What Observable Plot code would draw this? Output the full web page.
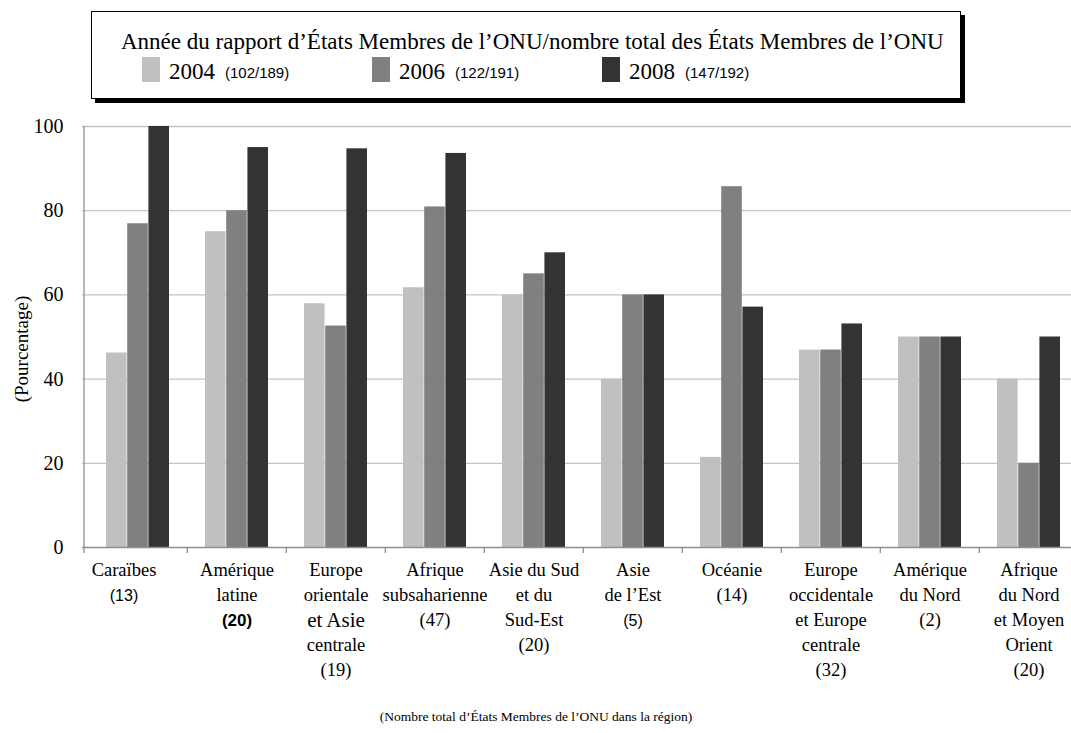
<!DOCTYPE html>
<html>
<head>
<meta charset="utf-8">
<script src="https://cdn.jsdelivr.net/npm/d3@7"></script>
<script src="https://cdn.jsdelivr.net/npm/@observablehq/plot@0.6"></script>
<style>
  body { margin: 0; background: #fff; }
  #wrap { position: relative; width: 1071px; height: 733px; overflow: hidden; }
  #legend { position: relative; height: 105px; }
  #box { position: absolute; left: 91px; top: 11px; width: 868px; height: 86px;
         border: 1px solid #000; box-shadow: 4px 4px 0 #000; background: #fff;
         font-family: "Liberation Serif", "Times New Roman", serif; color: #000; }
  #box .title { position: absolute; left: 29px; top: 18px; font-size: 23px; line-height: 24px; white-space: nowrap; }
  #box .item { position: absolute; top: 47px; height: 26px; display: flex; align-items: center; white-space: nowrap; }
  #box .sw { display: inline-block; width: 18px; height: 25px; margin-right: 9px; position: relative; top: -3px; }
  #box .yr { font-size: 23px; margin-right: 10px; }
  #box .ct { font-family: "Liberation Sans", Arial, sans-serif; font-size: 15px; }
  svg { display: block; }
</style>
</head>
<body>
<div id="wrap">
  <div id="legend"><div id="box"></div></div>
  <div id="chart"></div>
</div>
<script>
// ---------- data ----------
const legendTitle = "Année du rapport d’États Membres de l’ONU/nombre total des États Membres de l’ONU";
const years = ["2004", "2006", "2008"];
const legendCounts = ["(102/189)", "(122/191)", "(147/192)"];
const colors = ["#c0c0c0", "#808080", "#333333"];

const regions = [
  "Caraïbes", "Amérique latine", "Europe orientale et Asie centrale", "Afrique subsaharienne",
  "Asie du Sud et du Sud-Est", "Asie de l’Est", "Océanie",
  "Europe occidentale et Europe centrale", "Amérique du Nord", "Afrique du Nord et Moyen Orient"
];
const labelLines = [
  ["Caraïbes"], ["Amérique", "latine"], ["Europe", "orientale", "et Asie", "centrale"],
  ["Afrique", "subsaharienne"], ["Asie du Sud", "et du", "Sud-Est"], ["Asie", "de l’Est"],
  ["Océanie"], ["Europe", "occidentale", "et Europe", "centrale"], ["Amérique", "du Nord"],
  ["Afrique", "du Nord", "et Moyen", "Orient"]
];
const memberCounts = ["(13)", "(20)", "(19)", "(47)", "(20)", "(5)", "(14)", "(32)", "(2)", "(20)"];

const v2004 = [46.2, 75, 57.9, 61.7, 60, 40, 21.4, 46.9, 50, 40];
const v2006 = [76.9, 80, 52.6, 80.9, 65, 60, 85.7, 46.9, 50, 20];
const v2008 = [100, 95, 94.7, 93.6, 70, 60, 57.1, 53.1, 50, 50];

const yTicks = [0, 20, 40, 60, 80, 100];
const yTitle = "(Pourcentage)";
const xTitle = "(Nombre total d’États Membres de l’ONU dans la région)";

// ---------- styles (kept apart from the data) ----------
const serif = "'Liberation Serif', 'Times New Roman', serif";
const sans = "'Liberation Sans', Arial, sans-serif";
const countStyle = { 0: "sans", 1: "sansBold", 5: "sans" }; // by region index
const labelShift = { 0: -14 };                                 // by region index
const bigLine = "et Asie";

// ---------- legend ----------
const box = document.getElementById("box");
const t = document.createElement("div");
t.className = "title"; t.textContent = legendTitle; box.appendChild(t);
years.forEach((y, i) => {
  const item = document.createElement("div");
  item.className = "item";
  item.style.left = (50 + i * 230) + "px";
  const sw = document.createElement("span"); sw.className = "sw"; sw.style.background = colors[i];
  const yr = document.createElement("span"); yr.className = "yr"; yr.textContent = y;
  const ct = document.createElement("span"); ct.className = "ct"; ct.textContent = legendCounts[i];
  item.append(sw, yr, ct);
  box.appendChild(item);
});

// ---------- table ----------
const series = [v2004, v2006, v2008];
const rows = regions.flatMap((r, i) => years.map((y, k) => ({ region: r, year: y, value: series[k][i] })));

const labelRows = [];
regions.forEach((r, i) => {
  labelLines[i].forEach((txt, j) => labelRows.push({ region: r, idx: i, line: j, text: txt, style: txt === bigLine ? "serifBig" : "serif" }));
  labelRows.push({ region: r, idx: i, line: labelLines[i].length, text: memberCounts[i], style: countStyle[i] || "serif" });
});

// ---------- layout ----------
const W = 1071, H = 628;
const ml = 82, mt = 21, mb = 186;
const xRange = [86.3, 1080.3];
const pI = 0.36, pO = 0.18;
const step = (xRange[1] - xRange[0]) / (regions.length - pI + 2 * pO);
const bw = step * (1 - pI);
const third = bw / 3;

const styleFont = {
  serif: { fontFamily: serif, fontSize: 18.5 },
  serifBig: { fontFamily: serif, fontSize: 21 },
  sans: { fontFamily: sans, fontSize: 16 },
  sansBold: { fontFamily: sans, fontSize: 17, fontWeight: "bold" }
};

const labelMarks = [];
for (let j = 0; j < 5; j++) {
  for (const s of Object.keys(styleFont)) {
    for (const shifted of [false, true]) {
      const d = labelRows.filter(r => r.line === j && r.style === s && ((r.idx in labelShift) === shifted));
      if (!d.length) continue;
      labelMarks.push(Plot.text(d, {
        x: "region", y: () => 0, text: "text", dy: 23 + j * 25,
        dx: shifted ? labelShift[d[0].idx] : 0,
        textAnchor: "middle", lineAnchor: "middle", fill: "#000", ...styleFont[s]
      }));
    }
  }
}

const insets = [
  { insetLeft: 0, insetRight: 2 * third },
  { insetLeft: third, insetRight: third },
  { insetLeft: 2 * third, insetRight: 0 }
];

const chart = Plot.plot({
  width: W, height: H,
  marginLeft: ml, marginRight: 0, marginTop: mt, marginBottom: mb,
  style: { background: "#fff", overflow: "visible" },
  x: { type: "band", domain: regions, range: xRange, paddingInner: pI, paddingOuter: pO, axis: null },
  y: { domain: [0, 100], axis: null },
  color: { type: "ordinal", domain: years, range: colors },
  marks: [
    Plot.ruleY(yTicks.filter(v => v > 0), { y: d => d, stroke: "#c4c4c4", strokeWidth: 1.3 }),
    ...years.map((y, k) => Plot.barY(rows.filter(r => r.year === y), {
      x: "region", y: "value", fill: "year", ...insets[k]
    })),
    Plot.ruleY([0], { y: d => d, stroke: "#8f8f8f", strokeWidth: 1.3 }),
    // y axis line, continuing as the first tick below the baseline
    Plot.ruleX([regions[0]], { x: d => d, dx: -step / 2 - (xRange[0] - ml), y1: 100, y2: 0, insetBottom: -6, stroke: "#8f8f8f", strokeWidth: 1.3 }),
    // ticks between categories
    Plot.ruleX(regions.slice(1), { x: d => d, dx: -step / 2, y1: 0, y2: 0, insetBottom: -6, stroke: "#8f8f8f", strokeWidth: 1.3 }),
    Plot.text(yTicks, { y: d => d, text: d => String(d), frameAnchor: "left", textAnchor: "end", dx: -19,
      fontFamily: serif, fontSize: 20, fill: "#000" }),
    Plot.text([yTitle], { frameAnchor: "left", text: d => d, rotate: -90, textAnchor: "middle", dx: -61, dy: 12,
      fontFamily: serif, fontSize: 19, fill: "#000" }),
    ...labelMarks,
    Plot.text([xTitle], { frameAnchor: "bottom", text: d => d, dy: 169, dx: 535.5 - (ml + W) / 2, lineAnchor: "middle",
      fontFamily: serif, fontSize: 13.5, fill: "#000" })
  ]
});
document.getElementById("chart").appendChild(chart);
</script>
</body>
</html>
